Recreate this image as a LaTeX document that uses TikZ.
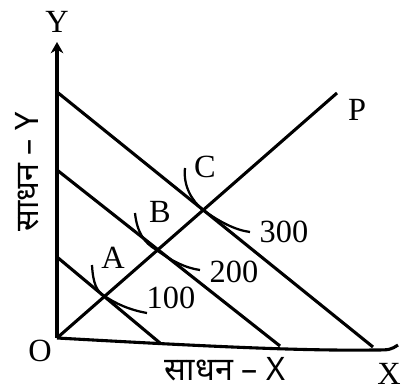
\documentclass[tikz,border=0pt]{standalone}
\usepackage{fontspec}
\setmainfont{Liberation Serif}
\newfontfamily\hindi[Script=Devanagari]{Noto Sans}
\usepackage{tikz}
\usetikzlibrary{arrows.meta,positioning,calc}
\tikzset{
    budget/.style={line width=2.2pt},
    isoquant/.style={line width=1.6pt},
    lbl/.style={font=\fontsize{23}{27}\selectfont, inner sep=0pt}
}

\begin{document}
\begin{tikzpicture}[>=Stealth, x=0.025cm, y=-0.025cm]
    \useasboundingbox (0,0) rectangle (406,392);

    % Key points
    \coordinate (O) at (57,338);
    \coordinate (Ytop) at (57,42);
    \coordinate (Xend) at (373,350);
    \coordinate (Xtip) at (398,345);
    \coordinate (P) at (337,93);
    \coordinate (A) at (103,295);
    \coordinate (B) at (155,249);
    \coordinate (C) at (203,210);

    % Draw axes
    \draw[budget,-{Stealth[length=8pt,width=9pt]}] (O) -- (Ytop);
    \draw[budget] (O) .. controls (200,346) and (300,351) .. (Xend) .. controls (390,350) .. (Xtip);

    % Draw budget lines
    \coordinate (L1a) at (57,257);
    \coordinate (L1b) at (160,343);
    \coordinate (L2a) at (57,170);
    \coordinate (L2b) at (280,346);
    \coordinate (L3a) at (57,92);
    \coordinate (L3b) at (373,347);
    \draw[budget] (L1a) -- (L1b);
    \draw[budget] (L2a) -- (L2b);
    \draw[budget] (L3a) -- (L3b);

    % Draw expansion path
    \draw[budget] (O) -- (P);

    % Draw isoquants
    \draw[isoquant] (92,265) .. controls (93,284) and (97,291) .. (A) .. controls (116,304) and (130,310) .. (147,313);
    \draw[isoquant] (135,213) .. controls (137,233) and (145,243) .. (B) .. controls (170,260) and (185,268) .. (200,270);
    \draw[isoquant] (185,168) .. controls (183,186) and (192,201) .. (C) .. controls (220,222) and (235,230) .. (250,232);

    % Labels
    \node[lbl] (ylab) at (57,22) {Y};
    \node[lbl] (olab) at (40,351) {O};
    \node[lbl] (xlab) at (389,374) {X};
    \node[lbl] (plab) at (357,110) {P};
    \node[lbl] (alab) at (113,258) {A};
    \node[lbl] (blab) at (160,212) {B};
    \node[lbl] (clab) at (205,167) {C};
    \node[lbl] (q100) at (171,298) {100};
    \node[lbl] (q200) at (234,272) {200};
    \node[lbl] (q300) at (284,232) {300};
    \node[lbl, font=\hindi\fontsize{23}{27}\selectfont] (xname) at (225,369) {साधन – X};
    \node[lbl, font=\hindi\fontsize{23}{27}\selectfont, rotate=90] (yname) at (27,172) {साधन – Y};
\end{tikzpicture}
\end{document}
